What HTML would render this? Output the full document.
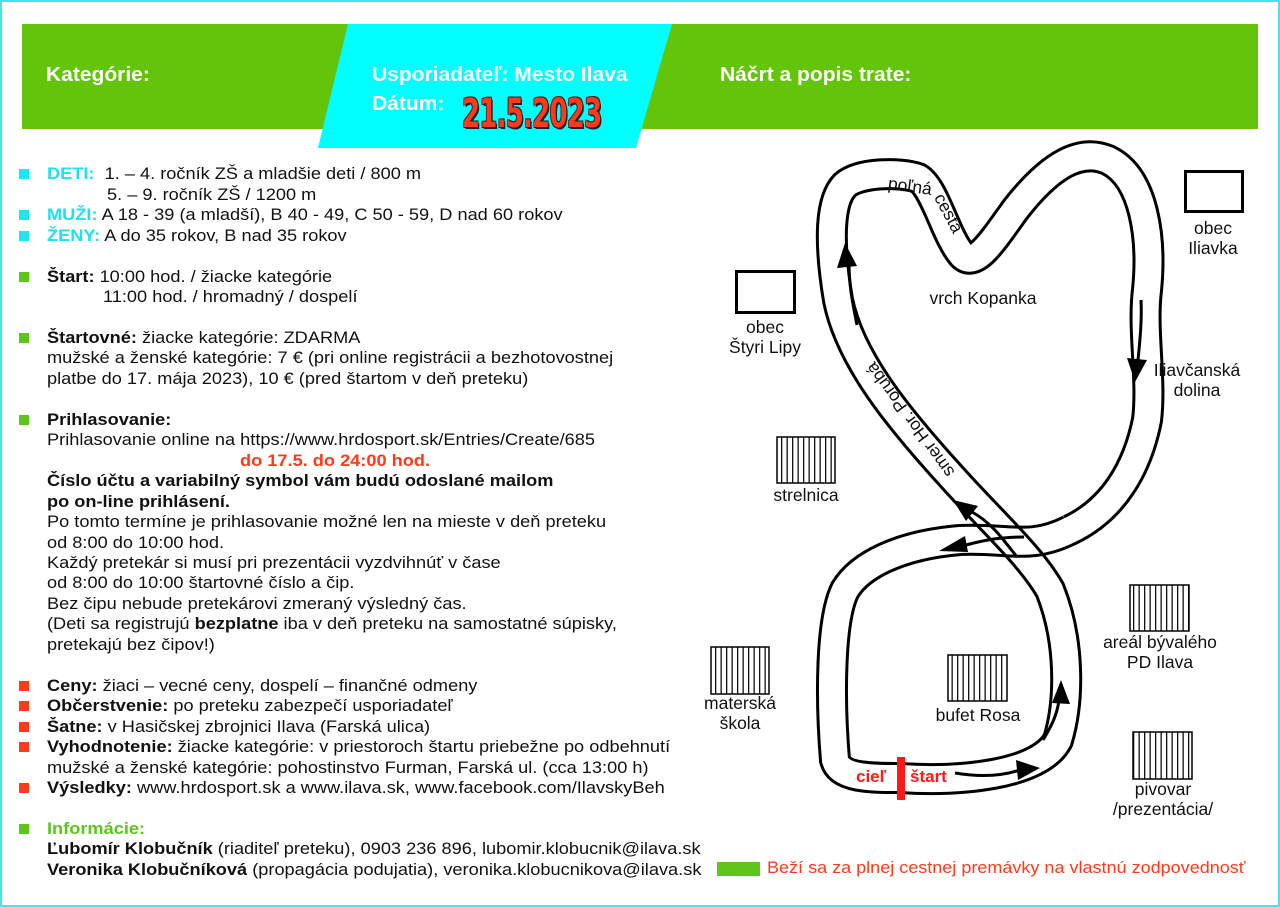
<!DOCTYPE html>
<html><head><meta charset="utf-8"><style>
body{margin:0;width:1280px;height:907px;position:relative;overflow:hidden;background:#fff;font-family:"Liberation Sans",sans-serif;}
.frame{position:absolute;left:0;top:0;width:1276px;height:903px;border:2px solid #3ee8ee;}
.l{position:absolute;white-space:nowrap;font-size:17px;line-height:20px;color:#111;transform:scaleX(1.07);transform-origin:0 50%;}
.sq{position:absolute;width:10px;height:10px;left:19px;}
.c{background:#1ee6f0}.g{background:#5ec51a}.r{background:#ff3a1a}
b{font-weight:bold}
.hd{position:absolute;color:#fff;font-weight:bold;font-size:20px;white-space:nowrap;transform:scaleX(1.05);transform-origin:0 50%;}
.m{position:absolute;font-size:17.5px;color:#111;text-align:center;white-space:nowrap;line-height:20px;}
</style></head><body>
<div class="frame"></div>
<svg style="position:absolute;left:0;top:0" width="1280" height="907">
<rect x="22" y="24" width="1236" height="105" fill="#64c40a"/>
<polygon points="348,24 672,24 636,148 318,148" fill="#00ffff"/>
</svg>
<div class="hd" style="left:46px;top:64px">Kategórie:</div>
<div class="hd" style="left:372px;top:64px">Usporiadateľ: Mesto Ilava</div>
<div class="hd" style="left:372px;top:93px">Dátum:</div>
<div class="hd" style="left:720px;top:64px">Náčrt a popis trate:</div>
<div style="position:absolute;left:462px;top:93px;font-size:40px;font-weight:bold;color:#ff3a1a;transform:scaleX(0.72);transform-origin:0 50%;text-shadow:-1px -1px 0 #222,1px -1px 0 #222,-1px 1px 0 #222,2px 2px 0 #222;letter-spacing:-1px;white-space:nowrap;line-height:42px;font-family:'DejaVu Sans Condensed','Liberation Sans',sans-serif">21.5.2023</div>

<div class="sq c" style="top:169px"></div><div class="l" style="left:47px;top:164px"><b style="color:#1ee0ee">DETI:</b>&nbsp; 1. – 4. ročník ZŠ a mladšie deti / 800 m</div>
<div class="l" style="left:107px;top:185px">5. – 9. ročník ZŠ / 1200 m</div>
<div class="sq c" style="top:210px"></div><div class="l" style="left:47px;top:205px"><b style="color:#1ee0ee">MUŽI:</b> A 18 - 39 (a mladší), B 40 - 49, C 50 - 59, D nad 60 rokov</div>
<div class="sq c" style="top:231px"></div><div class="l" style="left:47px;top:226px"><b style="color:#1ee0ee">ŽENY:</b> A do 35 rokov, B nad 35 rokov</div>
<div class="sq g" style="top:272px"></div><div class="l" style="left:47px;top:267px"><b>Štart:</b> 10:00 hod. / žiacke kategórie</div>
<div class="l" style="left:103px;top:287px">11:00 hod. / hromadný / dospelí</div>
<div class="sq g" style="top:333px"></div><div class="l" style="left:47px;top:328px"><b>Štartovné:</b> žiacke kategórie: ZDARMA</div>
<div class="l" style="left:47px;top:348px">mužské a ženské kategórie: 7 € (pri online registrácii a bezhotovostnej</div>
<div class="l" style="left:47px;top:369px">platbe do 17. mája 2023), 10 € (pred štartom v deň preteku)</div>
<div class="sq g" style="top:415px"></div><div class="l" style="left:47px;top:410px"><b>Prihlasovanie:</b></div>
<div class="l" style="left:47px;top:430px">Prihlasovanie online na https://www.hrdosport.sk/Entries/Create/685</div>
<div class="l" style="left:240px;top:451px;color:#ff3a1a"><b>do 17.5. do 24:00 hod.</b></div>
<div class="l" style="left:47px;top:471px"><b>Číslo účtu a variabilný symbol vám budú odoslané mailom</b></div>
<div class="l" style="left:47px;top:492px"><b>po on-line prihlásení.</b></div>
<div class="l" style="left:47px;top:512px">Po tomto termíne je prihlasovanie možné len na mieste v deň preteku</div>
<div class="l" style="left:47px;top:533px">od 8:00 do 10:00 hod.</div>
<div class="l" style="left:47px;top:553px">Každý pretekár si musí pri prezentácii vyzdvihnúť v čase</div>
<div class="l" style="left:47px;top:573px">od 8:00 do 10:00 štartovné číslo a čip.</div>
<div class="l" style="left:47px;top:594px">Bez čipu nebude pretekárovi zmeraný výsledný čas.</div>
<div class="l" style="left:47px;top:614px">(Deti sa registrujú <b>bezplatne</b> iba v deň preteku na samostatné súpisky,</div>
<div class="l" style="left:47px;top:635px">pretekajú bez čipov!)</div>
<div class="sq r" style="top:681px"></div><div class="l" style="left:47px;top:676px"><b>Ceny:</b> žiaci – vecné ceny, dospelí – finančné odmeny</div>
<div class="sq r" style="top:701px"></div><div class="l" style="left:47px;top:696px"><b>Občerstvenie:</b> po preteku zabezpečí usporiadateľ</div>
<div class="sq r" style="top:722px"></div><div class="l" style="left:47px;top:717px"><b>Šatne:</b> v Hasičskej zbrojnici Ilava (Farská ulica)</div>
<div class="sq r" style="top:742px"></div><div class="l" style="left:47px;top:737px"><b>Vyhodnotenie:</b> žiacke kategórie: v priestoroch štartu priebežne po odbehnutí</div>
<div class="l" style="left:47px;top:758px">mužské a ženské kategórie: pohostinstvo Furman, Farská ul. (cca 13:00 h)</div>
<div class="sq r" style="top:783px"></div><div class="l" style="left:47px;top:778px"><b>Výsledky:</b> www.hrdosport.sk a www.ilava.sk, www.facebook.com/IlavskyBeh</div>
<div class="sq g" style="top:824px"></div><div class="l" style="left:47px;top:819px"><b style="color:#5ec51a">Informácie:</b></div>
<div class="l" style="left:47px;top:839px"><b>Ľubomír Klobučník</b> (riaditeľ preteku), 0903 236 896, lubomir.klobucnik@ilava.sk</div>
<div class="l" style="left:47px;top:860px"><b>Veronika Klobučníková</b> (propagácia podujatia), veronika.klobucnikova@ilava.sk</div>

<svg style="position:absolute;left:0;top:0" width="1280" height="907">
<defs>
<pattern id="st" width="5.5" height="10" patternUnits="userSpaceOnUse"><rect width="5.5" height="10" fill="#fff"/><rect x="0" width="1.3" height="10" fill="#111"/></pattern>
<mask id="mA" maskUnits="userSpaceOnUse" x="0" y="0" width="1280" height="907">
<path d="M 900,778 C 960,782 1040,775 1058,740 C 1070,700 1070,640 1050,590 C 1030,555 990,520 950,475 C 900,420 850,360 838,300 C 828,240 830,200 845,185 C 860,172 900,172 918,178 C 935,188 945,235 962,255 C 975,268 990,245 1015,210 C 1050,165 1080,148 1108,160 C 1145,178 1152,240 1147,290 C 1142,330 1152,380 1147,420 C 1137,470 1112,510 1070,530" fill="none" stroke="#fff" stroke-width="32"/>
<path d="M 880,777 L 900,778 C 960,782 1040,775 1058,740 C 1070,700 1070,640 1050,590 C 1030,555 990,520 950,475 C 900,420 850,360 838,300 C 828,240 830,200 845,185 C 860,172 900,172 918,178 C 935,188 945,235 962,255 C 975,268 990,245 1015,210 C 1050,165 1080,148 1108,160 C 1145,178 1152,240 1147,290 C 1142,330 1152,380 1147,420 C 1137,470 1112,510 1070,530 L 1058,535" fill="none" stroke="#000" stroke-width="26"/>
</mask>
<mask id="mB" maskUnits="userSpaceOnUse" x="0" y="0" width="1280" height="907">
<path d="M 1070,530 C 1030,550 1010,538 960,540 C 900,545 860,565 845,590 C 830,620 830,700 835,760 C 840,778 870,778 900,778" fill="none" stroke="#fff" stroke-width="32"/>
<path d="M 1080,525 L 1070,530 C 1030,550 1010,538 960,540 C 900,545 860,565 845,590 C 830,620 830,700 835,760 C 840,778 870,778 900,778 L 915,779" fill="none" stroke="#000" stroke-width="26"/>
</mask>
</defs>
<rect width="1280" height="907" fill="#000" mask="url(#mA)"/>
<rect width="1280" height="907" fill="#000" mask="url(#mB)"/>
<g stroke="#000" stroke-width="3" fill="none">
<path d="M857,325 C852,300 849,285 849,262"/>
<path d="M1141,300 C1142,320 1140,340 1138,360"/>
<path d="M1017,557 C1000,535 990,522 972,512"/>
<path d="M1024,537 C1000,537 985,540 966,545"/>
<path d="M955,773 C985,778 1005,775 1020,770"/>
<path d="M1043,740 C1052,725 1057,715 1059,700"/>
</g>
<g fill="#000">
<polygon points="845,243 837,268 857,266"/>
<polygon points="1135,382 1127,358 1147,360"/>
<polygon points="953,500 978,506 966,521"/>
<polygon points="939,551 965,536 968,552"/>
<polygon points="1040,768 1016,760 1018,780"/>
<polygon points="1061,680 1052,703 1070,704"/>
</g>
<rect x="897" y="757" width="8" height="43" fill="#ff1a1a"/>
<rect x="736.5" y="271.5" width="58" height="41" fill="none" stroke="#000" stroke-width="3"/>
<rect x="1185.5" y="171.5" width="57" height="40" fill="none" stroke="#000" stroke-width="3"/>
<g stroke="#000" stroke-width="1.5" fill="url(#st)">
<rect x="777" y="437" width="58" height="46"/>
<rect x="711" y="647" width="58" height="47"/>
<rect x="948" y="655" width="59" height="46"/>
<rect x="1130" y="585" width="59" height="46"/>
<rect x="1133" y="732" width="59" height="47"/>
</g>
<rect x="717" y="862" width="43" height="14" fill="#5ec51a"/>
</svg>
<div class="m" style="left:715px;top:317px;width:100px">obec<br>Štyri Lipy</div>
<div class="m" style="left:1163px;top:218px;width:100px">obec<br>Iliavka</div>
<div class="m" style="left:913px;top:288px;width:140px">vrch Kopanka</div>
<div class="m" style="left:1137px;top:360px;width:120px">Iliavčanská<br>dolina</div>
<div class="m" style="left:756px;top:485px;width:100px">strelnica</div>
<div class="m" style="left:690px;top:693px;width:100px">materská<br>škola</div>
<div class="m" style="left:918px;top:705px;width:120px">bufet Rosa</div>
<div class="m" style="left:1090px;top:632px;width:140px">areál bývalého<br>PD Ilava</div>
<div class="m" style="left:1100px;top:779px;width:126px">pivovar<br>/prezentácia/</div>
<div class="m" style="left:888px;top:176px;transform:rotate(8deg)">poľná</div>
<div class="m" style="left:928px;top:203px;transform:rotate(62deg)">cesta</div>
<div class="m" style="left:835px;top:410px;width:150px;transform:rotate(-126deg)">smer Hor. Porubá</div>
<div class="m" style="left:856px;top:767px;color:#ff1a1a;font-weight:bold;text-align:left;font-size:17px">cieľ</div>
<div class="m" style="left:910px;top:767px;color:#ff1a1a;font-weight:bold;text-align:left;font-size:17px">štart</div>
<div class="m" style="left:767px;top:858px;color:#ff3a1a;font-size:17px;text-align:left;transform:scaleX(1.06);transform-origin:0 50%">Beží sa za plnej cestnej premávky na vlastnú zodpovednosť</div>
</body></html>
